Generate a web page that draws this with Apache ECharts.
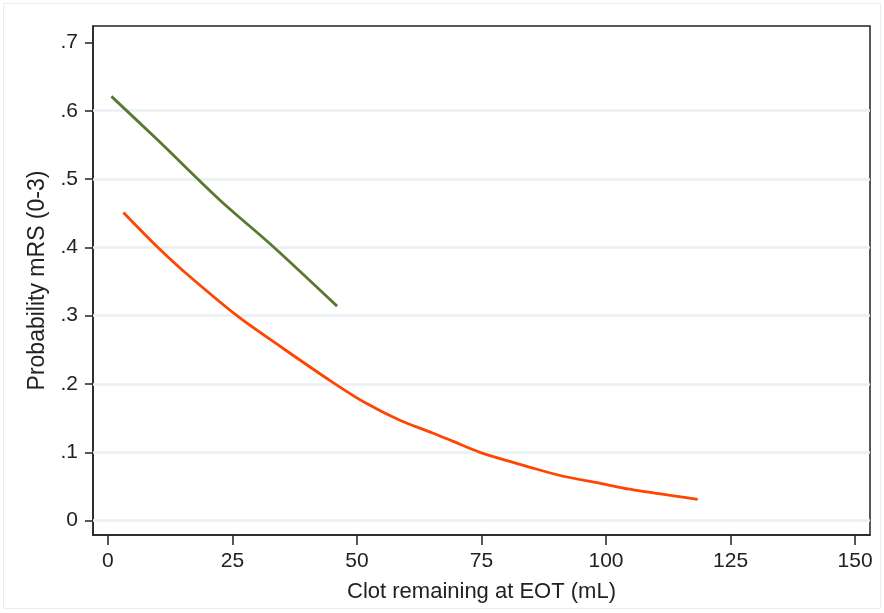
<!DOCTYPE html>
<html>
<head>
<meta charset="utf-8">
<script src="https://cdn.jsdelivr.net/npm/echarts@6/dist/echarts.min.js"></script>
<style>
  html, body { margin: 0; padding: 0; background: #fff; }
  #main { width: 884px; height: 613px; }
</style>
</head>
<body>
<div id="main"></div>
<script>
// values
const greenX = [0.7, 10, 22.5, 33.2, 46];
const greenY = [0.621, 0.557, 0.469, 0.401, 0.314];

const orangeX = [3.1, 10.0, 15.2, 25.9, 35.2, 44.6, 51.3, 58.6, 65.3, 69.3, 74.7, 85.3, 91.4, 98.7, 104.7, 118.4];
const orangeY = [0.451, 0.400, 0.365, 0.300, 0.252, 0.205, 0.174, 0.147, 0.128, 0.116, 0.100, 0.077, 0.065, 0.055, 0.046, 0.031];

const xTicks = [0, 25, 50, 75, 100, 125, 150];
const yTicks = [0, 0.1, 0.2, 0.3, 0.4, 0.5, 0.6, 0.7];
const gridYs = [0, 0.1, 0.2, 0.3, 0.4, 0.5, 0.6];

const chart = echarts.init(document.getElementById('main'));

function pairs (xs, ys) {
  return xs.map((x, i) => [x, ys[i]]);
}

const font = '"Liberation Sans", Arial, Helvetica, sans-serif';

const option = {
  backgroundColor: '#fff',
  animation: false,
  graphic: [{
    type: 'rect',
    shape: { x: 3.5, y: 3.5, width: 877, height: 605 },
    style: { fill: 'none', stroke: '#e6eff1', lineWidth: 1 },
    silent: true
  }],
  grid: {
    left: 93,
    top: 26,
    right: 14,
    bottom: 78,
    show: true,
    borderColor: '#222',
    borderWidth: 1.5,
    backgroundColor: '#fff'
  },
  xAxis: {
    type: 'value',
    min: -3,
    max: 153,
    name: 'Clot remaining at EOT (mL)',
    nameLocation: 'middle',
    nameGap: 46,
    nameTextStyle: { color: '#222', fontSize: 22, fontFamily: font },
    axisLine: { show: true, onZero: false, lineStyle: { color: '#222', width: 1.5 } },
    axisTick: {
      show: true,
      inside: false,
      length: 10,
      customValues: xTicks,
      lineStyle: { color: '#222', width: 1.5 }
    },
    axisLabel: {
      customValues: xTicks,
      margin: 16,
      color: '#222',
      fontSize: 21,
      fontFamily: font
    },
    splitLine: { show: false }
  },
  yAxis: {
    type: 'value',
    min: -0.021,
    max: 0.724,
    name: 'Probability mRS (0-3)',
    nameLocation: 'middle',
    nameGap: 41,
    nameTextStyle: { color: '#222', fontSize: 23, fontFamily: font },
    axisLine: { show: true, onZero: false, lineStyle: { color: '#222', width: 1.5 } },
    axisTick: {
      show: true,
      inside: false,
      length: 8,
      customValues: yTicks,
      lineStyle: { color: '#222', width: 1.5 }
    },
    axisLabel: {
      customValues: yTicks,
      margin: 15,
      color: '#222',
      fontSize: 21,
      fontFamily: font,
      formatter: v => {
        if (Math.abs(v) < 1e-9) return '0';
        return v.toFixed(1).replace(/^0/, '');
      }
    },
    splitLine: { show: false }
  },
  series: [
    {
      // horizontal grid lines
      type: 'line',
      data: [],
      z: 1,
      silent: true,
      markLine: {
        z: 1,
        silent: true,
        symbol: 'none',
        label: { show: false },
        lineStyle: { color: '#e8f0f2', width: 2.5, type: 'solid' },
        data: gridYs.map(y => ({ yAxis: y }))
      }
    },
    {
      name: 'green',
      type: 'line',
      z: 6,
      smooth: 0.3,
      showSymbol: false,
      data: pairs(greenX, greenY),
      lineStyle: { color: '#58792f', width: 2.8 }
    },
    {
      name: 'orange',
      type: 'line',
      z: 6,
      smooth: 0.3,
      showSymbol: false,
      data: pairs(orangeX, orangeY),
      lineStyle: { color: '#ff4500', width: 2.8 }
    }
  ]
};

chart.setOption(option);
</script>
</body>
</html>
